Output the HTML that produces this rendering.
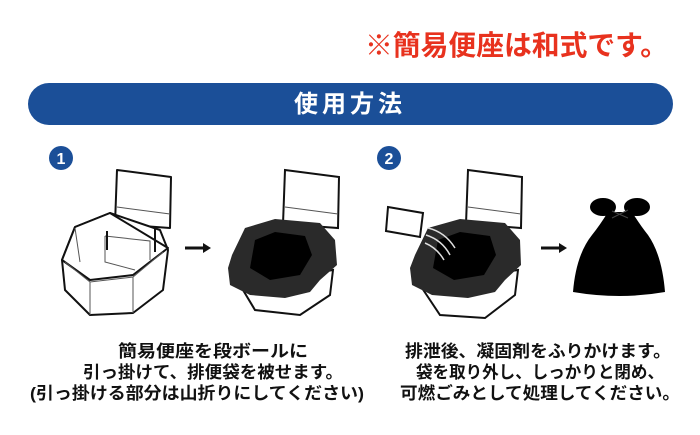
<!DOCTYPE html>
<html><head><meta charset="utf-8"><style>
html,body{margin:0;padding:0;background:#fff;width:700px;height:435px;overflow:hidden}
svg{display:block}
text{font-family:"Liberation Sans","Noto Sans CJK JP",sans-serif;font-weight:bold}
</style></head><body>
<svg width="700" height="435" viewBox="0 0 700 435" xmlns="http://www.w3.org/2000/svg">
<text x="365" y="55" font-size="28" fill="#e8321e" textLength="303" lengthAdjust="spacingAndGlyphs">※簡易便座は和式です。</text>
<rect x="28" y="83" width="645" height="42" rx="21" fill="#1b4f98"/>
<text x="350" y="112" font-size="24" fill="#fff" text-anchor="middle" letter-spacing="4">使用方法</text>

<!-- step 1 -->
<circle cx="61" cy="158" r="12" fill="#1b4f98"/>
<text x="61" y="164" font-size="16" fill="#fff" text-anchor="middle">1</text>
<g fill="#fff" stroke="#111" stroke-width="2" stroke-linejoin="round">
<path d="M117 170 L171 177 L170 228 L115 224 Z"/>
<path d="M75 227 L110 213 L160 230 L168 250 L163 290 L133 313 L90 315 L65 290 L62 260 Z"/>
<path d="M62 260 L75 227 L110 213 L168 248 L133 275 L90 280 Z" fill="#fff"/>
</g>
<g fill="none" stroke="#555" stroke-width="1">
<path d="M105 236 L150 241 L150 260 M105 236 L105 262 L135 270"/>
<path d="M65 262 L90 282 L133 277 L163 252 M90 282 L90 315 M133 277 L133 313 M75 228 L80 262"/>
<path d="M117 207 L170 214"/>
</g>
<path d="M107 231 L107 250 M155 228 L155 252" stroke="#111" stroke-width="2"/>
<path d="M185 248 L205 248" stroke="#111" stroke-width="3"/><path d="M203 243 L211 248 L203 253 Z" fill="#111"/>

<!-- black seat 1 -->
<g fill="#fff" stroke="#111" stroke-width="2">
<path d="M285 170 L339 177 L338 228 L283 224 Z"/>
<path d="M240 285 L255 310 L300 315 L330 295 L333 270 Z"/>
</g>
<path d="M285 207 L338 214" stroke="#555"/>
<path d="M232 255 L245 228 L275 219 L320 223 L335 240 L337 265 L320 280 L310 292 L285 298 L250 295 L230 285 L228 268 Z" fill="#2a2a2a"/>
<path d="M255 240 L275 232 L305 236 L312 255 L300 275 L270 280 L250 268 Z" fill="#000"/>

<!-- step 2 -->
<circle cx="389" cy="158" r="12" fill="#1b4f98"/>
<text x="389" y="164" font-size="16" fill="#fff" text-anchor="middle">2</text>
<g fill="#fff" stroke="#111" stroke-width="2">
<path d="M468 170 L522 177 L521 228 L466 224 Z"/>
<path d="M388 207 L423 213 L420 237 L386 231 Z"/>
<path d="M420 285 L440 315 L485 318 L515 295 L518 270 Z"/>
</g>
<path d="M468 207 L521 214" stroke="#555"/>
<path d="M415 255 L428 228 L460 219 L505 223 L520 240 L521 265 L505 280 L495 292 L468 298 L432 295 L412 285 L410 268 Z" fill="#2a2a2a"/>
<path d="M438 240 L460 232 L490 236 L496 255 L484 275 L454 280 L433 268 Z" fill="#000"/>
<g fill="none" stroke="#ddd" stroke-width="1.5">
<path d="M428 228 Q445 232 455 248"/><path d="M426 235 Q442 240 450 255"/><path d="M425 243 Q437 248 444 260"/>
</g>
<path d="M541 248 L561 248" stroke="#111" stroke-width="3"/><path d="M559 243 L567 248 L559 253 Z" fill="#111"/>
<!-- bag -->
<ellipse cx="603" cy="207" rx="13" ry="9" fill="#000"/>
<ellipse cx="637" cy="207" rx="13" ry="9" fill="#000"/>
<path d="M608 212 L632 212 Q640 225 648 235 Q662 255 665 292 Q620 300 573 292 Q576 255 592 235 Q600 225 608 212 Z" fill="#000"/>
<path d="M612 211 L628 218 M612 218 L628 210" stroke="#444" stroke-width="1"/>

<g font-size="17" fill="#111" text-anchor="middle">
<text x="213" y="357" textLength="190" lengthAdjust="spacingAndGlyphs">簡易便座を段ボールに</text>
<text x="213" y="378" textLength="260" lengthAdjust="spacingAndGlyphs">引っ掛けて、排便袋を被せます。</text>
<text x="197" y="399" textLength="334" lengthAdjust="spacingAndGlyphs">(引っ掛ける部分は山折りにしてください)</text>
<text x="538" y="357" textLength="266" lengthAdjust="spacingAndGlyphs">排泄後、凝固剤をふりかけます。</text>
<text x="540" y="378" textLength="248" lengthAdjust="spacingAndGlyphs">袋を取り外し、しっかりと閉め、</text>
<text x="540" y="399" textLength="280" lengthAdjust="spacingAndGlyphs">可燃ごみとして処理してください。</text>
</g>
</svg>
</body></html>
